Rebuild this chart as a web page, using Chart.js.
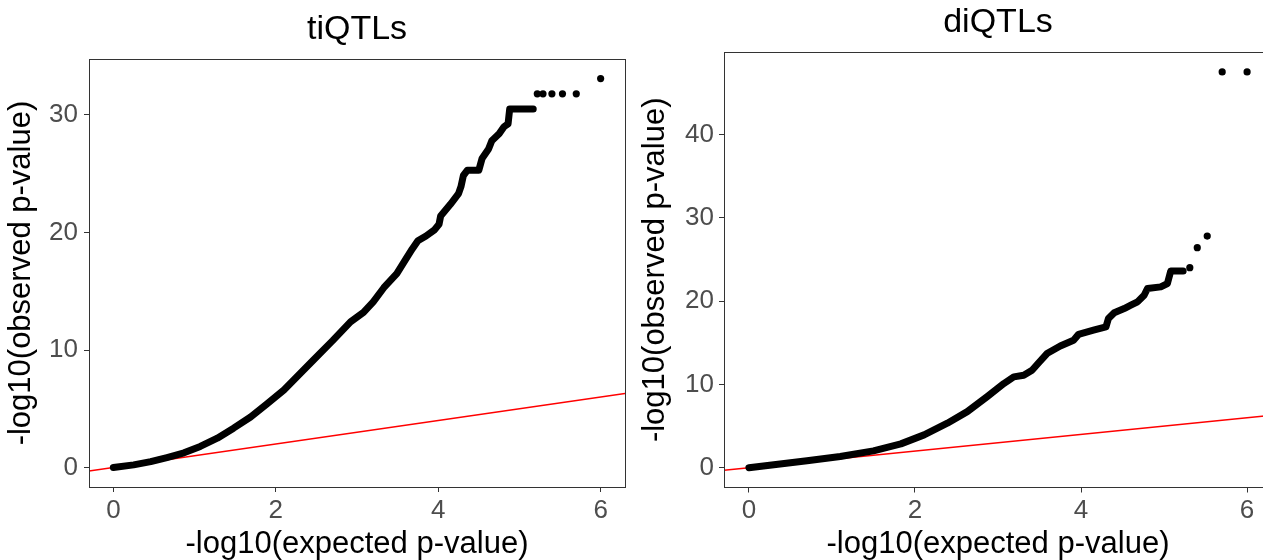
<!DOCTYPE html>
<html>
<head>
<meta charset="utf-8">
<script src="https://cdn.jsdelivr.net/npm/chart.js@4.4.1/dist/chart.umd.min.js"></script>
<style>
  html, body { margin: 0; padding: 0; background: #fff; overflow: hidden; }
  body { width: 1263px; height: 560px; position: relative; }
  .panel { position: absolute; top: 0; height: 560px; }
  #tiBox { left: 0; width: 640px; }
  #diBox { left: 640px; width: 640px; }
</style>
</head>
<body>
<div class="panel" id="tiBox"><canvas id="tiChart"></canvas></div>
<div class="panel" id="diBox"><canvas id="diChart"></canvas></div>
<script>
// tiQTLs - dense part of the QQ curve
var tiExpected = [0, 0.25, 0.46, 0.66, 0.87, 1.07, 1.28, 1.48, 1.69, 1.89, 2.1, 2.3, 2.47, 2.7, 2.92, 3.08, 3.2, 3.33, 3.49, 3.58, 3.68, 3.75, 3.85, 3.95, 4.01, 4.03, 4.15, 4.25, 4.28, 4.31, 4.36, 4.5, 4.54, 4.62, 4.66, 4.75, 4.81, 4.86, 4.88, 5.17];
var tiObserved = [0, 0.23, 0.5, 0.85, 1.25, 1.8, 2.5, 3.35, 4.3, 5.4, 6.6, 8.0, 9.2, 10.8, 12.4, 13.2, 14.1, 15.3, 16.5, 17.5, 18.6, 19.3, 19.7, 20.2, 20.7, 21.4, 22.4, 23.3, 23.9, 24.85, 25.3, 25.3, 26.3, 27.1, 27.8, 28.4, 29.0, 29.25, 30.5, 30.5];
// tiQTLs - single points at the top
var tiTailExpected = [5.22, 5.29, 5.4, 5.53, 5.7, 6.0];
var tiTailObserved = [31.8, 31.8, 31.8, 31.8, 31.8, 33.1];

// diQTLs - dense part
var diExpected = [0, 0.3, 0.7, 1.1, 1.5, 1.83, 2.11, 2.39, 2.63, 2.87, 3.07, 3.19, 3.31, 3.41, 3.49, 3.59, 3.75, 3.91, 3.97, 4.15, 4.3, 4.33, 4.4, 4.52, 4.6, 4.68, 4.76, 4.8, 4.96, 5.04, 5.08, 5.23];
var diObserved = [0, 0.35, 0.83, 1.34, 2.02, 2.86, 3.94, 5.34, 6.73, 8.53, 10.1, 10.9, 11.1, 11.7, 12.6, 13.7, 14.6, 15.3, 16.0, 16.5, 16.9, 17.9, 18.6, 19.1, 19.5, 19.9, 20.7, 21.5, 21.7, 22.1, 23.6, 23.6];
// diQTLs - single points at the top
var diTailExpected = [5.31, 5.4, 5.52, 5.7, 6.0];
var diTailObserved = [24.0, 26.4, 27.8, 47.5, 47.5];

var xTicks = [0, 2, 4, 6];
var tiYTicks = [0, 10, 20, 30];
var diYTicks = [0, 10, 20, 30, 40];
var diagonal = [-0.3, 6.3]; // y = x reference line, across the panel

var FONT = "'Liberation Sans', Arial, sans-serif";

function toPoints(xs, ys) {
  return xs.map(function (x, i) { return { x: x, y: ys[i] }; });
}

// box round the plot area (ggplot panel border)
var panelBorder = {
  id: "panelBorder",
  afterDraw: function (chart) {
    var a = chart.chartArea;
    var c = chart.ctx;
    c.save();
    c.strokeStyle = "#333333";
    c.lineWidth = 1;
    c.strokeRect(Math.round(a.left) + 0.5, Math.round(a.top) + 0.5,
      Math.round(a.right - a.left), Math.round(a.bottom - a.top));
    c.restore();
  }
};

function makeQQ(id, title, ex, ob, tailEx, tailOb, yTicks, lay) {
  var all = ob.concat(tailOb);
  var yMax = Math.max.apply(null, all);
  var pad = yMax * 0.05;

  return new Chart(document.getElementById(id), {
    type: "scatter",
    data: {
      datasets: [
        {
          data: toPoints(ex, ob),
          showLine: true,
          borderColor: "#000000",
          borderWidth: 7,
          borderCapStyle: "round",
          borderJoinStyle: "round",
          pointRadius: 0,
          tension: 0,
        },
        {
          data: toPoints(tailEx, tailOb),
          backgroundColor: "#000000",
          borderWidth: 0,
          pointRadius: 3.6,
        },
        {
          data: toPoints(diagonal, diagonal),
          showLine: true,
          borderColor: "#ff0000",
          borderWidth: 1.6,
          pointRadius: 0,
        },
      ],
    },
    options: {
      responsive: true,
      maintainAspectRatio: false,
      animation: false,
      layout: { padding: { left: 0, right: lay.right, top: 0, bottom: 0 } },
      plugins: {
        legend: { display: false },
        tooltip: { enabled: false },
        title: {
          display: true,
          text: title,
          fullSize: false,
          color: "#000000",
          font: { family: FONT, size: 34, weight: "normal", lineHeight: 1.15 },
          padding: { top: lay.titleTop, bottom: 10 },
        },
      },
      scales: {
        x: {
          type: "linear",
          min: diagonal[0],
          max: diagonal[1],
          afterBuildTicks: function (s) { s.ticks = xTicks.map(function (v) { return { value: v }; }); },
          afterFit: function (s) { s.height = lay.xHeight; },
          border: { display: false },
          grid: { drawOnChartArea: false, drawTicks: true, tickLength: 5, color: "#333333" },
          ticks: { color: "#4d4d4d", font: { family: FONT, size: 26 }, padding: 3, maxRotation: 0 },
          title: {
            display: true,
            text: "-log10(expected p-value)",
            color: "#000000",
            font: { family: FONT, size: 31, lineHeight: 0.9 },
            padding: { top: 0, bottom: 1.5 },
          },
        },
        y: {
          type: "linear",
          min: -pad,
          max: yMax + pad,
          afterBuildTicks: function (s) { s.ticks = yTicks.map(function (v) { return { value: v }; }); },
          afterFit: function (s) { s.width = lay.yWidth; },
          border: { display: false },
          grid: { drawOnChartArea: false, drawTicks: true, tickLength: 5, color: "#333333" },
          ticks: { color: "#4d4d4d", font: { family: FONT, size: 26 }, padding: lay.yTickPad },
          title: {
            display: true,
            text: "-log10(observed p-value)",
            color: "#000000",
            font: { family: FONT, size: 31, lineHeight: 0.9 },
            padding: { top: lay.yTitlePad, bottom: 0 },
          },
        },
      },
    },
    plugins: [panelBorder],
  });
}

document.addEventListener("DOMContentLoaded", function () {
  makeQQ("tiChart", "tiQTLs", tiExpected, tiObserved, tiTailExpected, tiTailObserved, tiYTicks,
    { right: 15, titleTop: 10, xHeight: 73, yWidth: 89, yTickPad: 6, yTitlePad: 8 });
  makeQQ("diChart", "diQTLs", diExpected, diObserved, diTailExpected, diTailObserved, diYTicks,
    { right: 8, titleTop: 3, xHeight: 72.5, yWidth: 84, yTickPad: 5, yTitlePad: 2 });
});
</script>
</body>
</html>
